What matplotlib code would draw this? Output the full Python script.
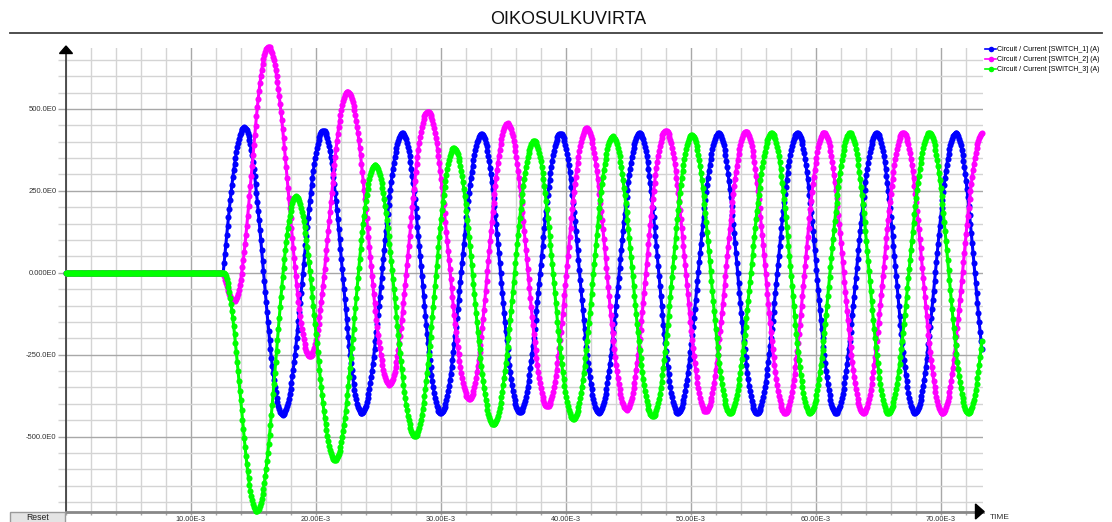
import numpy as np
import matplotlib
matplotlib.use("Agg")
import matplotlib.pyplot as plt
from matplotlib.lines import Line2D
from matplotlib.patches import Polygon, Rectangle
from matplotlib.ticker import MultipleLocator, FixedLocator, FixedFormatter

plt.rcParams["font.family"] = ["Liberation Sans", "DejaVu Sans"]

W, H = 1112, 522

TITLE = "OIKOSULKUVIRTA"
LABELS = [
    "Circuit / Current [SWITCH_1] (A)",
    "Circuit / Current [SWITCH_2] (A)",
    "Circuit / Current [SWITCH_3] (A)",
]
COLORS = ["#0000ff", "#ff00ff", "#00ff00"]

# time axis in ms, current in A
T_FAULT = 12.6
T_END = 73.3
DT = 0.07

# extrema (peak / trough), per switch
SW1_T = [14.29, 17.35, 20.61, 23.67, 26.94, 30.0, 33.26, 36.32, 39.58, 42.64,
         45.91, 48.97, 52.23, 55.29, 58.55, 61.61, 64.88, 67.94, 71.2, 74.26]
SW1_V = [444, -433, 434, -428, 426, -428, 423, -426, 425, -427,
         426, -427, 426, -428, 426, -428, 426, -428, 426, -428]

SW2_T = [13.5, 16.21, 19.54, 22.56, 25.89, 28.96, 32.29, 35.33, 38.53, 41.67,
         44.87, 48.0, 51.2, 54.42, 57.55, 60.66, 63.81, 67.0, 70.13, 73.35]
SW2_V = [-85, 690, -255, 553, -341, 492, -385, 456, -408, 441,
         -418, 434, -423, 431, -428, 428, -428, 428, -428, 426]

SW3_T = [15.28, 18.42, 21.54, 24.74, 27.94, 31.06, 34.21, 37.46, 40.61, 43.76,
         46.96, 50.08, 53.14, 56.48, 59.54, 62.74, 65.81, 69.09, 72.21, 75.4]
SW3_V = [-728, 233, -572, 329, -499, 380, -463, 402, -446, 416,
         -438, 421, -428, 426, -428, 427, -428, 427, -428, 427]

FIRST_SHAPE = ["sin", "sin", "cos"]

X_TICKS = [10, 20, 30, 40, 50, 60, 70]
X_TICK_LABELS = ["10.00E-3", "20.00E-3", "30.00E-3", "40.00E-3",
                 "50.00E-3", "60.00E-3", "70.00E-3"]
Y_TICKS = [-500, -250, 0, 250, 500]
Y_TICK_LABELS = ["-500.0E0", "-250.0E0", "0.000E0", "250.0E0", "500.0E0"]


def build_wave(ext_t, ext_v, first_shape):
    t = np.arange(0.0, T_END + 1e-9, DT)
    v = np.zeros_like(t)
    kt = [T_FAULT] + list(ext_t)
    kv = [0.0] + list(ext_v)
    for i in range(len(kt) - 1):
        a_t, b_t, a_v, b_v = kt[i], kt[i + 1], kv[i], kv[i + 1]
        m = (t >= a_t) & (t <= b_t)
        s = (t[m] - a_t) / (b_t - a_t)
        if i == 0 and first_shape == "sin":
            w = np.sin(np.pi / 2 * s)
        else:
            w = (1 - np.cos(np.pi * s)) / 2
        v[m] = a_v + (b_v - a_v) * w
    return t, v


def px(x, y):
    return x / W, 1 - y / H


fig = plt.figure(figsize=(W / 100, H / 100), dpi=100)
ax = fig.add_axes([65.7 / W, 1 - 512 / H, 917.5 / W, 464 / H])
ax.set_xlim(0, 73.4)
ax.set_ylim(-730, 686)

ax.xaxis.set_major_locator(FixedLocator(X_TICKS))
ax.xaxis.set_major_formatter(FixedFormatter(X_TICK_LABELS))
ax.xaxis.set_minor_locator(MultipleLocator(2))
ax.yaxis.set_major_locator(FixedLocator(Y_TICKS))
ax.yaxis.set_major_formatter(FixedFormatter(Y_TICK_LABELS))
ax.yaxis.set_minor_locator(MultipleLocator(50))

ax.grid(which="major", color="#a8a8a8", lw=1.0)
ax.grid(which="minor", color="#d4d4d4", lw=1.0)
ax.set_axisbelow(True)

ax.tick_params(axis="y", which="both", length=5.8, width=1.0, pad=0.8,
               labelsize=5.5, labelcolor="#333333")
ax.tick_params(axis="y", which="major", color="#a8a8a8")
ax.tick_params(axis="y", which="minor", color="#d4d4d4")
ax.tick_params(axis="x", which="both", length=2.5, width=1.0, pad=0.3,
               labelsize=5.3, labelcolor="#333333", color="#a8a8a8")

for side in ["top", "right"]:
    ax.spines[side].set_visible(False)
ax.spines["left"].set_color("#333333")
ax.spines["left"].set_linewidth(1.2)
ax.spines["bottom"].set_color("#888888")
ax.spines["bottom"].set_linewidth(2.0)

series = [(SW1_T, SW1_V), (SW2_T, SW2_V), (SW3_T, SW3_V)]
handles = []
for (et, ev), shape, col, lab in zip(series, FIRST_SHAPE, COLORS, LABELS):
    t, v = build_wave(et, ev, shape)
    ax.plot(t, v, color=col, lw=2.2, marker="o", markersize=4.4,
            markeredgewidth=0, clip_on=False, zorder=3)
    handles.append(Line2D([], [], color=col, lw=1.2, marker="o",
                          markersize=4, markeredgewidth=0, label=lab))

fig.legend(handles=handles, loc="upper left", bbox_to_anchor=px(985, 46),
           frameon=False, fontsize=5, handlelength=1.6, handletextpad=0.15,
           labelspacing=0.45, borderpad=0, borderaxespad=0)

# title and rule under it
fig.text(*px(568, 20), TITLE, ha="center", va="center", fontsize=13, color="#111111")
fig.add_artist(Line2D([10 / W, 1102 / W], [1 - 33 / H, 1 - 33 / H],
                      color="#404040", lw=1.3))

# axis arrows
fig.add_artist(Polygon([px(66, 46), px(59.5, 53.5), px(72.5, 53.5)],
                       closed=True, color="black", zorder=10))
fig.add_artist(Polygon([px(984, 511.5), px(975.5, 504), px(975.5, 519)],
                       closed=True, color="black", zorder=10))
fig.text(*px(990, 514), "TIME", ha="left", va="top", fontsize=6, color="#333333")

# reset button
fig.add_artist(Rectangle(px(10, 530), 55 / W, 18 / H, facecolor="#e4e4e4",
                         edgecolor="#9a9a9a", lw=1.0))
fig.text(*px(38, 518), "Reset", ha="center", va="center", fontsize=6.2, color="#222222")

fig.savefig("out.png", dpi=100)
